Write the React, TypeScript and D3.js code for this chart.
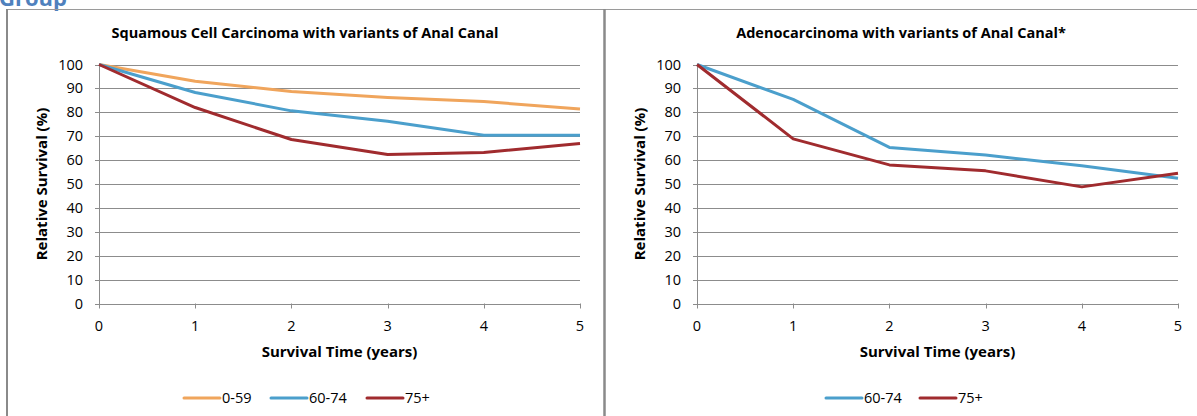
import React from "react";
import * as d3 from "d3";

const years = [0, 1, 2, 3, 4, 5];
const yTicks = [0, 10, 20, 30, 40, 50, 60, 70, 80, 90, 100];

const sccTitle = "Squamous Cell Carcinoma with variants of Anal Canal";
const sccAge0059 = [100, 93.0, 88.7, 86.2, 84.5, 81.4];
const sccAge6074 = [100, 88.3, 80.6, 76.3, 70.4, 70.4];
const sccAge75 = [100, 82.0, 68.6, 62.3, 63.2, 66.9];

const adenoTitle = "Adenocarcinoma with variants of Anal Canal*";
const adenoAge6074 = [100, 85.4, 65.3, 62.1, 57.6, 52.4];
const adenoAge75 = [100, 68.9, 58.0, 55.5, 48.8, 54.5];

const COLORS: Record<string, string> = {
  "0-59": "#F0A55C",
  "60-74": "#4B9FCC",
  "75+": "#A02B2E",
};

const FONT = "'Open Sans', 'Liberation Sans', Arial, sans-serif";

type Series = { name: string; values: number[] };

function Panel({
  boxLeft,
  boxRight,
  x0,
  x1,
  title,
  series,
  legendStart,
  legendGap,
}: {
  boxLeft: number;
  boxRight: number;
  x0: number;
  x1: number;
  title: string;
  series: Series[];
  legendStart: number;
  legendGap: number[];
}) {
  const x = d3.scaleLinear().domain([0, 5]).range([x0, x1]);
  const y = d3.scaleLinear().domain([0, 100]).range([303.5, 64.5]);
  const line = d3
    .line<number>()
    .x((_, i) => x(years[i]))
    .y((d) => y(d));
  const boxCenter = (boxLeft + boxRight) / 2;
  const grid = "#8C8C8C";
  let lx = legendStart;
  return (
    <g>
      <text
        x={boxCenter}
        y={38}
        textAnchor="middle"
        fontFamily={FONT}
        fontWeight="bold"
        fontSize={14.5}
        fill="#000"
      >
        {title}
      </text>
      {yTicks.map((t) => (
        <g key={t}>
          <line
            x1={x0 - 4}
            x2={x1}
            y1={Math.round(y(t)) + 0.5}
            y2={Math.round(y(t)) + 0.5}
            stroke={grid}
            strokeWidth={1}
          />
          <text
            x={x0 - 16}
            y={y(t) + 5}
            textAnchor="end"
            fontFamily={FONT}
            fontSize={14.5}
            fill="#000"
          >
            {t}
          </text>
        </g>
      ))}
      <line x1={x0 + 0.5} x2={x0 + 0.5} y1={y(100)} y2={y(0) + 4} stroke={grid} />
      {years.map((t) => (
        <g key={t}>
          <line
            x1={Math.round(x(t)) + 0.5}
            x2={Math.round(x(t)) + 0.5}
            y1={y(0)}
            y2={y(0) + 5}
            stroke={grid}
          />
          <text
            x={x(t)}
            y={331}
            textAnchor="middle"
            fontFamily={FONT}
            fontSize={14.5}
            fill="#000"
          >
            {t}
          </text>
        </g>
      ))}
      <text
        transform={`translate(${x0 - 52},${(y(0) + y(100)) / 2}) rotate(-90)`}
        textAnchor="middle"
        fontFamily={FONT}
        fontWeight="bold"
        fontSize={15}
        fill="#000"
      >
        Relative Survival (%)
      </text>
      <text
        x={(x0 + x1) / 2}
        y={357}
        textAnchor="middle"
        fontFamily={FONT}
        fontWeight="bold"
        fontSize={15}
        fill="#000"
      >
        Survival Time (years)
      </text>
      {series.map((s) => (
        <path
          key={s.name}
          d={line(s.values) || ""}
          fill="none"
          stroke={COLORS[s.name]}
          strokeWidth={3}
          strokeLinejoin="round"
        />
      ))}
      {series.map((s, i) => {
        const start = lx;
        lx += legendGap[i];
        return (
          <g key={s.name}>
            <line
              x1={start}
              x2={start + 36}
              y1={398}
              y2={398}
              stroke={COLORS[s.name]}
              strokeWidth={3}
              strokeLinecap="round"
            />
            <text x={start + 38} y={403} fontFamily={FONT} fontSize={14.5} fill="#000">
              {s.name}
            </text>
          </g>
        );
      })}
    </g>
  );
}

export default function App() {
  return (
    <svg
      width={1197}
      height={416}
      style={{ position: "absolute", left: 0, top: 0, background: "#fff" }}
    >
      <rect x={0} y={0} width={1197} height={416} fill="#fff" />
      <text
        x={-1}
        y={6}
        fontFamily="'Open Sans', sans-serif"
        fontWeight="bold"
        fontSize={22}
        fill="#4F81BD"
      >
        Group
      </text>
      <line x1={7} x2={1197} y1={9.5} y2={9.5} stroke="#9A9A9A" strokeWidth={1} />
      <line x1={7} x2={7} y1={9} y2={416} stroke="#8A8A8A" strokeWidth={2} />
      <line x1={604.5} x2={604.5} y1={9} y2={416} stroke="#8A8A8A" strokeWidth={2.5} />
      <Panel
        boxLeft={7}
        boxRight={603}
        x0={99}
        x1={580}
        title={sccTitle}
        series={[
          { name: "0-59", values: sccAge0059 },
          { name: "60-74", values: sccAge6074 },
          { name: "75+", values: sccAge75 },
        ]}
        legendStart={184}
        legendGap={[87, 96, 0]}
      />
      <Panel
        boxLeft={605}
        boxRight={1197}
        x0={697}
        x1={1178}
        title={adenoTitle}
        series={[
          { name: "60-74", values: adenoAge6074 },
          { name: "75+", values: adenoAge75 },
        ]}
        legendStart={826}
        legendGap={[94, 0]}
      />
    </svg>
  );
}
